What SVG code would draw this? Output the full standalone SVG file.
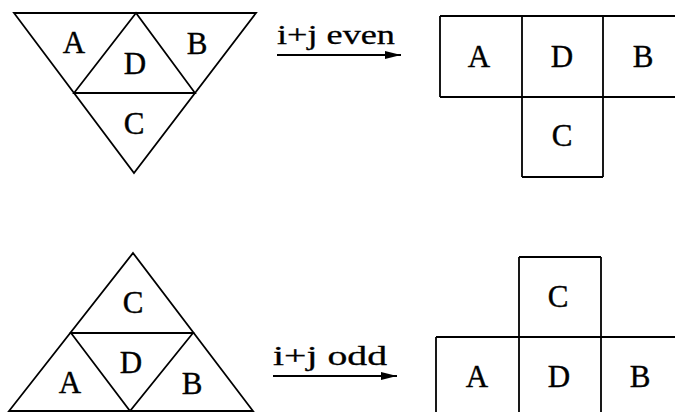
<svg xmlns="http://www.w3.org/2000/svg" width="675" height="412" viewBox="0 0 675 412">
<defs>
<style>
.ln{fill:none;stroke:#000;stroke-width:1.8;stroke-linejoin:miter}
.lt{font-family:"Liberation Serif","Times New Roman",serif;font-size:31px;fill:#000;stroke:#000;stroke-width:0.4;text-anchor:middle}
.lb{font-family:"Liberation Serif","Times New Roman",serif;font-size:28px;fill:#000;stroke:#000;stroke-width:0.3}
</style>
<marker id="ah" viewBox="0 0 16 8" refX="16" refY="4" markerWidth="16" markerHeight="8" markerUnits="userSpaceOnUse" orient="auto">
<path d="M0,0 L16,4 L0,8 Z" fill="#000"/>
</marker>
</defs>
<rect width="675" height="412" fill="#fff"/>

<g id="tri-top">
<path class="ln" d="M14,13 L256,13 L134,173 Z M136,13 L74,93 L195,93 Z"/>
<text class="lt" x="74" y="53">A</text>
<text class="lt" x="135" y="74">D</text>
<text class="lt" x="197" y="54">B</text>
<text class="lt" x="134" y="134">C</text>
</g>

<g id="squares-top">
<path class="ln" d="M440,16 H675 M440,97 H675 M440,16 V97 M522,16 V177 M603,16 V177 M522,177 H603"/>
<text class="lt" x="479" y="67">A</text>
<text class="lt" x="562" y="67">D</text>
<text class="lt" x="643" y="67">B</text>
<text class="lt" x="562" y="146">C</text>
</g>

<g id="tri-bottom">
<path class="ln" d="M133,253 L253,411 L9,411 Z M71,333 L193,333 L130,411 Z"/>
<text class="lt" x="133" y="313">C</text>
<text class="lt" x="131" y="373">D</text>
<text class="lt" x="70" y="393">A</text>
<text class="lt" x="192" y="394">B</text>
</g>

<g id="squares-bottom">
<path class="ln" d="M519,257 H601 M436,337 H675 M519,257 V412 M601,257 V412 M436,337 V412"/>
<text class="lt" x="558" y="307">C</text>
<text class="lt" x="477" y="387">A</text>
<text class="lt" x="559" y="387">D</text>
<text class="lt" x="640" y="387">B</text>
</g>

<g id="connectors">
<text class="lb" x="277" y="44" textLength="118" lengthAdjust="spacingAndGlyphs">i+j even</text>
<line class="ln" x1="277" y1="55" x2="401" y2="55" stroke-width="1.4" marker-end="url(#ah)"/>
<text class="lb" x="273" y="365" textLength="114" lengthAdjust="spacingAndGlyphs">i+j odd</text>
<line class="ln" x1="273" y1="376" x2="397" y2="376" stroke-width="1.4" marker-end="url(#ah)"/>
</g>
</svg>
